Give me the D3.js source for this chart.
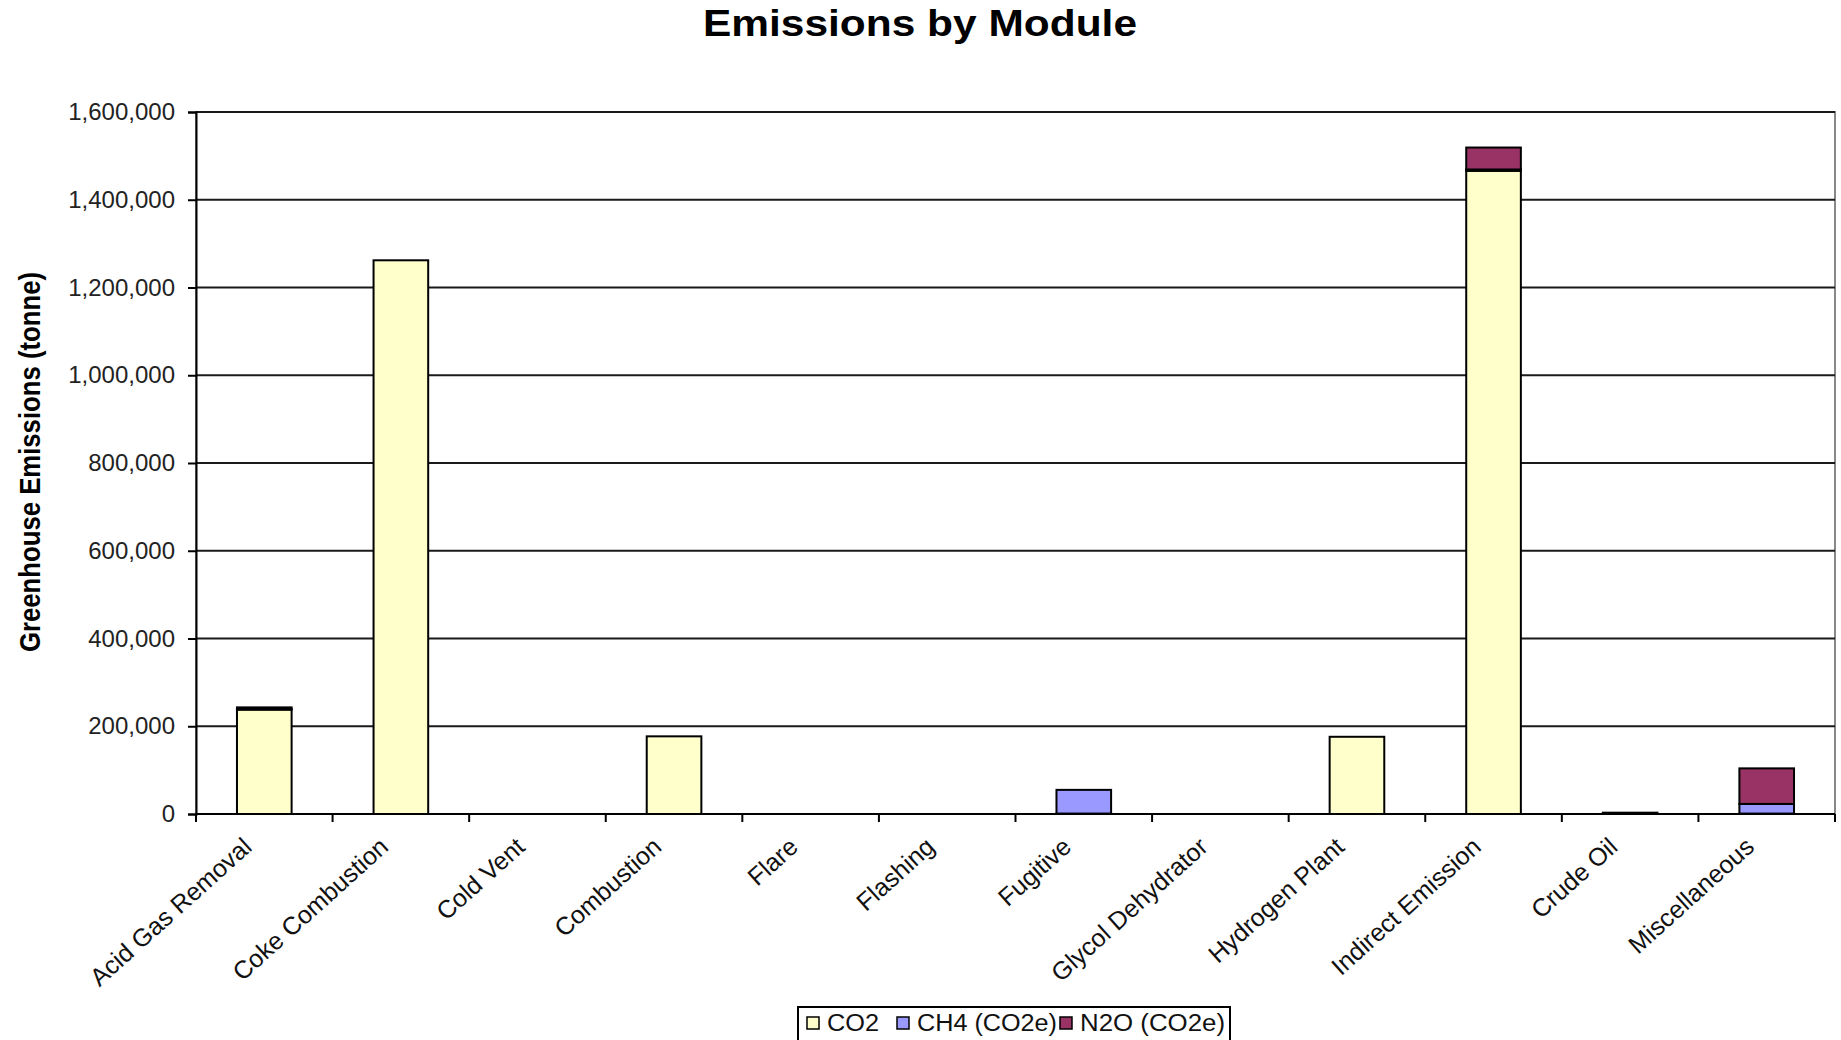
<!DOCTYPE html>
<html>
<head>
<meta charset="utf-8">
<script src="https://cdn.jsdelivr.net/npm/d3@7"></script>
<style>
  body { margin: 0; background: #fff; }
  text { font-family: "Liberation Sans", Arial, sans-serif; }
</style>
</head>
<body>
<div id="chart"></div>
<script>
// data
var categories = ["Acid Gas Removal", "Coke Combustion", "Cold Vent", "Combustion", "Flare",
                  "Flashing", "Fugitive", "Glycol Dehydrator", "Hydrogen Plant",
                  "Indirect Emission", "Crude Oil", "Miscellaneous"];
var co2 = [238000, 1262000, 0, 177000, 0, 0, 1000, 0, 176000, 1466000, 3000, 1000];
var ch4 = [1000, 0, 0, 0, 0, 0, 54000, 0, 0, 3000, 0, 22000];
var n2o = [4000, 0, 0, 0, 0, 0, 0, 0, 0, 50000, 0, 81000];
var seriesNames = ["CO2", "CH4 (CO2e)", "N2O (CO2e)"];
var seriesColors = ["#FFFFCC", "#9999FF", "#993366"];
var yTicks = [0, 200000, 400000, 600000, 800000, 1000000, 1200000, 1400000, 1600000];

var W = 1841, H = 1040;
var margin = {top: 112, right: 6, bottom: 226, left: 196};
var width = W - margin.left - margin.right,
    height = H - margin.top - margin.bottom;

var rows = categories.map(function(c, i) {
  return {cat: c, "CO2": co2[i], "CH4 (CO2e)": ch4[i], "N2O (CO2e)": n2o[i]};
});
var stacked = d3.stack().keys(seriesNames)(rows);

var svg = d3.select("#chart").append("svg")
    .attr("width", W)
    .attr("height", H);

svg.append("text")
    .attr("x", 920)
    .attr("y", 36)
    .attr("text-anchor", "middle")
    .attr("textLength", 434)
    .attr("lengthAdjust", "spacingAndGlyphs")
    .style("font-size", "36px")
    .style("font-weight", "bold")
    .text("Emissions by Module");

var g = svg.append("g")
    .attr("transform", "translate(" + margin.left + "," + margin.top + ")");

var x = d3.scaleBand().domain(categories).range([0, width]).paddingInner(0.6).paddingOuter(0.3);
var xEdge = d3.scaleLinear().domain([0, categories.length]).range([0, width]);
var y = d3.scaleLinear().domain([0, 1600000]).range([height, 0]);

// plot area border
g.append("rect")
    .attr("width", width).attr("height", height)
    .attr("fill", "#fff")
    .attr("stroke", "#888").attr("stroke-width", 2);

// gridlines
g.append("g")
    .selectAll("line")
    .data(yTicks.slice(1))
    .enter().append("line")
    .attr("x1", 0).attr("x2", width)
    .attr("y1", function(d) { return y(d); })
    .attr("y2", function(d) { return y(d); })
    .attr("stroke", "#1a1a1a")
    .attr("stroke-width", 2);

// bars
g.append("g")
  .selectAll("g")
  .data(stacked)
  .enter().append("g")
    .attr("fill", function(d, i) { return seriesColors[i]; })
  .selectAll("rect")
  .data(function(d) { return d.filter(function(p) { return p[1] - p[0] > 0; }); })
  .enter().append("rect")
    .attr("x", function(d) { return x(d.data.cat); })
    .attr("width", x.bandwidth())
    .attr("y", function(d) { return y(d[1]); })
    .attr("height", function(d) { return y(d[0]) - y(d[1]); })
    .attr("stroke", "#000")
    .attr("stroke-width", 2);

// y axis
var yAxis = d3.axisLeft(y)
    .tickValues(yTicks)
    .tickSize(8)
    .tickPadding(13)
    .tickFormat(d3.format(","));
var ya = g.append("g").call(yAxis);
ya.select(".domain").attr("stroke", "#000").attr("stroke-width", 2);
ya.selectAll(".tick line").attr("stroke", "#000").attr("stroke-width", 2);
ya.selectAll(".tick text")
    .attr("fill", "#222")
    .style("font-size", "24px")
    .style("font-family", "'Liberation Sans', Arial, sans-serif");

// x axis: baseline and ticks at category boundaries
var xa = g.append("g").attr("transform", "translate(0," + height + ")");
xa.append("line").attr("x1", 0).attr("x2", width).attr("stroke", "#000").attr("stroke-width", 2);
xa.selectAll(".xt")
    .data(d3.range(categories.length + 1))
    .enter().append("line")
    .attr("class", "xt")
    .attr("x1", function(d) { return xEdge(d); })
    .attr("x2", function(d) { return xEdge(d); })
    .attr("y1", 0).attr("y2", 8)
    .attr("stroke", "#000").attr("stroke-width", 2);

xa.selectAll(".xl")
    .data(categories)
    .enter().append("text")
    .attr("class", "xl")
    .attr("text-anchor", "end")
    .attr("transform", function(d) {
      return "translate(" + (x(d) + x.bandwidth() / 2 - 11) + ",35) rotate(-42)";
    })
    .style("font-size", "25px")
    .attr("fill", "#111")
    .text(function(d) { return d; });

// y axis title
svg.append("text")
    .attr("transform", "translate(40,462) rotate(-90)")
    .attr("text-anchor", "middle")
    .attr("textLength", 380)
    .attr("lengthAdjust", "spacingAndGlyphs")
    .style("font-family", "'Liberation Sans Narrow', 'Liberation Sans', Arial, sans-serif")
    .style("font-size", "30px")
    .style("font-weight", "bold")
    .text("Greenhouse Emissions (tonne)");

// legend
var legend = svg.append("g").attr("transform", "translate(798,1007)");
legend.append("rect")
    .attr("width", 432).attr("height", 44)
    .attr("fill", "#fff").attr("stroke", "#000").attr("stroke-width", 2);
var legendX = [9, 99, 262];
var legendW = [52, 140, 145];
var items = legend.selectAll(".li")
    .data(seriesNames)
    .enter().append("g")
    .attr("transform", function(d, i) { return "translate(" + legendX[i] + ",0)"; });
items.append("rect")
    .attr("x", 0).attr("y", 10)
    .attr("width", 12).attr("height", 12)
    .attr("fill", function(d, i) { return seriesColors[i]; })
    .attr("stroke", "#000").attr("stroke-width", 1.5);
items.append("text")
    .attr("x", 20).attr("y", 24)
    .attr("textLength", function(d, i) { return legendW[i]; })
    .attr("lengthAdjust", "spacingAndGlyphs")
    .style("font-size", "23px")
    .attr("fill", "#111")
    .text(function(d) { return d; });
</script>
</body>
</html>
